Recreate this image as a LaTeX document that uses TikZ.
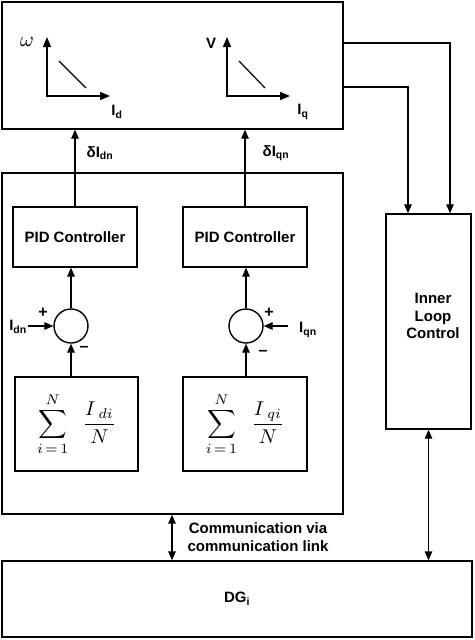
\documentclass[tikz,border=0pt]{standalone}
\usepackage{graphicx}
\usepackage{fontspec}
\setmainfont{Liberation Sans}
\usetikzlibrary{arrows.meta}
\begin{document}
\begin{tikzpicture}[x=1pt,y=-1pt,
  box/.style={draw, line width=1.4pt, inner sep=0pt, font=\fontsize{15}{18}\selectfont\bfseries},
  lbl/.style={inner sep=1pt, font=\fontsize{15}{18}\selectfont\bfseries},
  sgn/.style={inner sep=1pt, font=\fontsize{16}{18}\selectfont\bfseries},
  arr/.style={line width=1.4pt, -{Triangle[length=9pt,width=7.5pt]}},
  darr/.style={line width=1.4pt, {Triangle[length=9pt,width=7.5pt]}-{Triangle[length=9pt,width=7.5pt]}},
  axis/.style={line width=1.4pt, {Triangle[length=10pt,width=8pt]}-{Triangle[length=10pt,width=8pt]}},
  summ/.style={font=\fontsize{10}{12}\selectfont}]
\useasboundingbox (0,0) rectangle (474,640);
% main boxes
\node[box, minimum width=341pt, minimum height=127pt] (top) at (172.5,65.5) {};
\node[box, minimum width=341pt, minimum height=341pt] (mid) at (172.5,343.5) {};
\node[box, minimum width=470pt, minimum height=76pt] (dg) at (237,599) {DG\textsubscript{i}};
\node[box, minimum width=85pt, minimum height=215pt] (ilc) at (428.5,321.5) {};
\node[lbl, align=center, font=\fontsize{15}{17.5}\selectfont\bfseries] (ilct) at (433,316) {Inner\\Loop\\Control};
% droop graphs
\draw[axis] (47,37) -- (47,96) -- (110,96);
\draw[line width=1.2pt] (59,61) -- (86,88);
\node[inner sep=0pt, font=\fontsize{10}{12}\selectfont] (w) at (27,42) {\scalebox{2.1}{$\omega$}};
\node[lbl] (id) at (117,112) {I\textsubscript{d}};
\draw[axis] (227,37) -- (227,96) -- (290,96);
\draw[line width=1.2pt] (239,61) -- (265,88);
\node[lbl] (v) at (211,43) {V};
\node[lbl] (iq) at (303,112) {I\textsubscript{q}};
% PID boxes
\node[box, minimum width=124pt, minimum height=60pt] (pid1) at (75,237) {PID Controller};
\node[box, minimum width=124pt, minimum height=60pt] (pid2) at (245,237) {PID Controller};
% summing junctions
\node[draw, circle, line width=1.4pt, minimum size=34pt, inner sep=0pt] (c1) at (71,326) {};
\node[draw, circle, line width=1.4pt, minimum size=34pt, inner sep=0pt] (c2) at (246,326) {};
% average boxes
\node[box, minimum width=123pt, minimum height=94pt, summ] (s1) at (76.5,424) {\scalebox{2}{$\displaystyle\sum_{i\,=\,1}^{N}\;\;\frac{I_{\;di}}{N}$}};
\node[box, minimum width=124pt, minimum height=94pt, summ] (s2) at (245,424) {\scalebox{2}{$\displaystyle\sum_{i\,=\,1}^{N}\;\;\frac{I_{\;qi}}{N}$}};
% connections
\draw[arr] (pid1.north) -- (pid1.north |- top.south);
\draw[arr] (pid2.north) -- (pid2.north |- top.south);
\node[lbl] (dl1) at (100,153) {δI\textsubscript{dn}};
\node[lbl] (dl2) at (276,153) {δI\textsubscript{qn}};
\draw[arr] (c1.north) -- (c1.north |- pid1.south);
\draw[arr] (c2.north) -- (c2.north |- pid2.south);
\draw[arr] (s1.north -| c1) -- (c1.south);
\draw[arr] (s2.north -| c2) -- (c2.south);
\node[lbl, anchor=east] (idn) at (28,327) {I\textsubscript{dn}};
\draw[arr] (idn.east |- c1) -- (c1.west);
\node[lbl, anchor=west] (iqn) at (298,330) {I\textsubscript{qn}};
\draw[arr] (288,326) coordinate (iqs) -- (c2.east);
\node[sgn] (p1) at (43,313) {+};
\node[sgn] (m1) at (84,349) {–};
\node[sgn] (p2) at (269,313) {+};
\node[sgn] (m2) at (263,353) {–};
% to inner loop
\coordinate (o1) at (343,43);
\coordinate (o2) at (343,87);
\draw[arr] (o1) -| ([xshift=21.5pt]ilc.north);
\draw[arr] (o2) -| ([xshift=-20.5pt]ilc.north);
\draw[darr] (ilc.south) -- (ilc.south |- dg.north);
% communication
\coordinate (cm) at (172,0);
\draw[darr] (mid.south -| cm) -- (dg.north -| cm);
\node[lbl, align=center] (comm) at (258,537) {Communication via\\communication link};
\end{tikzpicture}
\end{document}
